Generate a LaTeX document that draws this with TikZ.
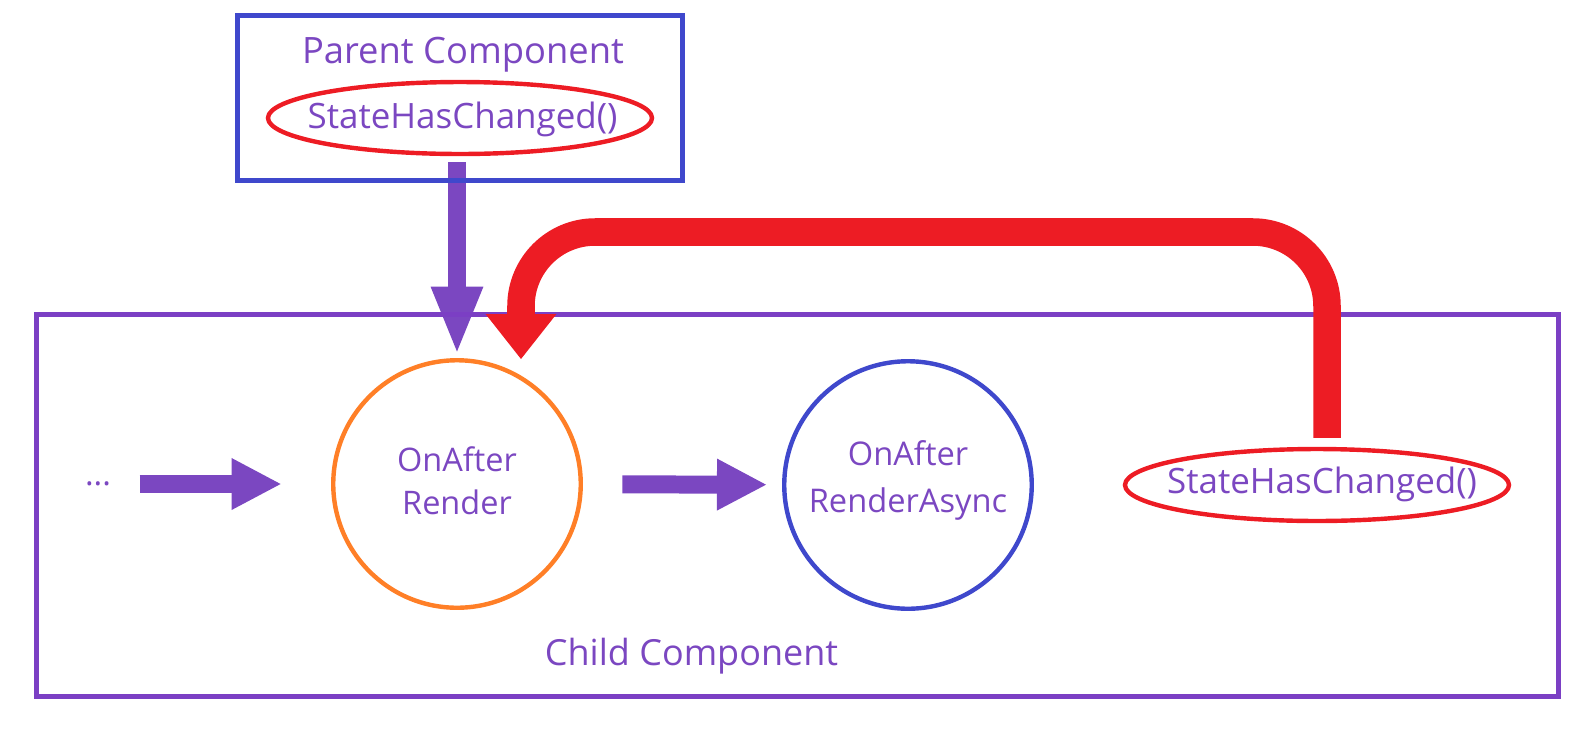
\documentclass[tikz,border=0pt]{standalone}
\usepackage{fontspec}
\setmainfont{Open Sans}
\usetikzlibrary{arrows.meta,shapes.geometric}
\definecolor{cpurple}{HTML}{7B47C1}
\definecolor{cblue}{HTML}{3F48CC}
\definecolor{cred}{HTML}{ED1C24}
\definecolor{corange}{HTML}{FF7F27}
\definecolor{cbox}{HTML}{7B3FC4}
\begin{document}
\begin{tikzpicture}[x=0.5669pt,y=-0.5669pt,
  lbl/.style={text=cpurple,inner sep=0pt},
  parentbox/.style={draw=cblue,line width=2.83pt,minimum width=252.3pt,minimum height=93.8pt,inner sep=0pt},
  childbox/.style={draw=cbox,line width=2.83pt,minimum width=862.8pt,minimum height=216.6pt,inner sep=0pt},
  redell/.style={draw=cred,ellipse,line width=2.5pt,minimum width=217.7pt,minimum height=40.8pt,inner sep=0pt},
  circ/.style={circle,line width=2.5pt,minimum size=140.3pt,inner sep=0pt,text=cpurple,align=center},
  hflow/.style={draw=cpurple,line width=10.2pt,-{Triangle[width=29.5pt,length=27.8pt,line width=0pt]}},
  vflow/.style={draw=cpurple,line width=10.2pt,-{Triangle[width=30pt,length=36.8pt,line width=0pt]}},
  redflow/.style={draw=cred,line width=15.6pt,rounded corners=42pt,-{Triangle[width=40.2pt,length=25.5pt,line width=0pt]}}
]
\useasboundingbox (0,0) rectangle (1586,728);

% nodes
\node[redell] (pse) at (460,118) {};
\node[lbl,anchor=base,font=\fontsize{19.8pt}{24pt}\selectfont] (psetxt) at (462.5,128) {StateHasChanged()};
\node[lbl,anchor=base,font=\fontsize{20.6pt}{24pt}\selectfont] (ptitle) at (463,63) {Parent Component};

\node[circ,draw=corange,font=\fontsize{18.4pt}{24.4pt}\selectfont,text depth=3.4pt] (orange) at (457,484) {OnAfter\\Render};
\node[circ,draw=cblue,font=\fontsize{18.5pt}{26.6pt}\selectfont,text depth=10.1pt] (blue) at (908,485) {OnAfter\\RenderAsync};
\node[lbl,font=\fontsize{18.4pt}{24pt}\selectfont] (dots) at (98,484) {...};

\node[redell] (cse) at (1317,485) {};
\node[lbl,anchor=base,font=\fontsize{19.8pt}{24pt}\selectfont] (csetxt) at (1322,493) {StateHasChanged()};
\node[lbl,anchor=base,font=\fontsize{20.4pt}{24pt}\selectfont] (ctitle) at (691.5,665) {Child Component};

% purple flow arrows
\draw[vflow,shorten <=3.4pt,shorten >=3.7pt] (pse.south -| orange.north) -- (orange.north);
\draw[hflow,shorten <=16pt,shorten >=28.6pt] (dots) -- (orange);
\draw[hflow,shorten <=22.4pt,shorten >=9.1pt] (orange) -- (blue);

% boxes
\node[parentbox] (parent) at (460,97.75) {};
\node[childbox] (child) at (797.5,505.5) {};

% red loop
\coordinate (rs) at ([shift={(10,-9)}]cse.north);
\coordinate (rtip) at (521,359);
\draw[redflow] (rs) -- (rs |- 0,232) -- (rtip |- 0,232) -- (rtip);
\end{tikzpicture}
\end{document}
